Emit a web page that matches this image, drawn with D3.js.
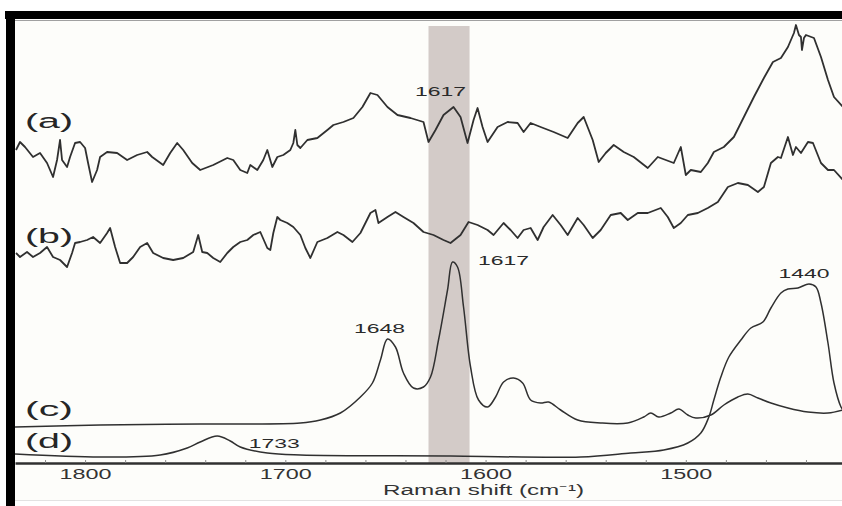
<!DOCTYPE html>
<html><head><meta charset="utf-8">
<script src="https://cdn.jsdelivr.net/npm/d3@7"></script>
<style>html,body{margin:0;padding:0;background:#fff;} svg{display:block;font-family:"Liberation Sans",Arial,Helvetica,sans-serif;}</style>
</head><body><svg id="chart" width="842" height="506"></svg>
<script>
// ---- Data (Raman shift in cm-1, intensity in arbitrary stacked units) ----
const aShift = [1834.5,1832.5,1830,1826,1822.5,1819,1816,1814,1812.5,1811.5,
  1809,1807.5,1805,1802.5,1800,1798.5,1796.5,1794,1792.5,1789,
  1784,1779,1774,1769,1766.5,1761,1757.5,1754,1751,1746.5,
  1742.5,1736,1729,1726,1722.5,1719,1717.5,1714,1711,1709,
  1706.5,1704,1701,1697.5,1696,1695,1694,1692.5,1689,1684,
  1679,1676,1671,1666,1661.5,1657.5,1654,1649,1644,1637.5,
  1631,1628.5,1625,1621,1616,1612.5,1609,1606,1604,1601.5,
  1599,1594,1589,1584,1581,1577.5,1572.5,1566,1559,1554,
  1551,1546.5,1543.5,1540,1536,1531,1526,1519,1514,1510,
  1506,1502.5,1500,1497.5,1492.5,1489,1486,1481,1476,1471,
  1466,1461,1456.5,1452.5,1449,1446,1445,1443.5,1442.5,1442,
  1441,1440,1436,1432.5,1429,1426,1421.5];
const aIntensity = [313,321,316,306,310,300,286,303,323,303,
  296,306,320,321,315,300,281,293,306,311,
  310,303,308,311,306,298,310,320,313,300,
  293,298,305,303,293,290,298,293,303,313,
  296,306,308,313,320,333,318,315,323,325,
  333,338,341,345,356,370,368,356,348,345,
  341,321,333,348,356,346,320,343,355,336,
  321,336,341,340,331,340,336,331,325,340,
  346,323,301,310,318,311,306,295,306,303,
  300,316,288,293,291,300,311,316,326,346,
  366,385,401,405,416,430,438,428,426,413,
  425,428,425,406,383,366,356];

const bShift = [1834.5,1832.5,1829,1826,1822.5,1819,1816,1812.5,1809,1806.5,
  1805,1802.5,1799,1796,1792.5,1789,1787.5,1785,1782.5,1779,
  1776,1772.5,1769,1766,1761,1756,1751,1746,1743.5,1741.5,
  1739,1736,1732.5,1729,1726,1722.5,1719,1716,1712.5,1709,
  1707.5,1706,1704,1702.5,1699,1696,1692.5,1690,1687.5,1684,
  1679,1674,1671,1666.5,1662.5,1657.5,1655,1653.5,1649,1645,
  1641,1636,1631,1626,1621,1617.5,1612.5,1608.5,1604,1599,
  1596,1591,1587.5,1584,1581,1577.5,1574,1571,1566.5,1562.5,
  1559,1554,1551,1546.5,1542.5,1537.5,1532.5,1529,1524,1519,
  1512.5,1509,1506,1502.5,1499,1494,1489,1484,1479,1474,
  1469,1464,1461,1457.5,1454,1452.5,1449,1446.5,1445,1442.5,
  1439,1436.5,1432.5,1429,1426,1421.5];
const bIntensity = [210,206,211,206,210,216,206,203,196,210,
  220,221,223,226,220,230,235,216,200,200,
  206,216,220,210,205,203,205,211,228,211,
  210,205,201,210,216,221,223,228,231,215,
  213,230,246,243,240,236,228,215,205,221,
  225,231,228,221,230,250,253,240,246,251,
  246,240,231,228,223,220,228,241,238,233,
  228,240,233,225,233,235,223,236,248,238,
  228,245,238,225,233,248,250,243,250,250,
  255,246,235,240,248,250,255,261,276,280,
  278,271,276,300,306,305,326,308,316,310,
  321,320,300,293,293,283];

const cShift = [1835,1792.5,1742.5,1692.5,1682.5,1672.5,1662.5,1656.5,1652.5,1649,
  1645,1641,1636,1631,1627.5,1623.5,1619,1616.5,1614,1611,
  1607.5,1603.5,1599,1595,1591,1586,1581.5,1577.5,1572.5,1568.5,
  1562.5,1554,1542.5,1529,1521,1517.5,1513.5,1507.5,1503.5,1499,
  1495,1487.5,1481,1474,1469,1464,1457.5,1449,1439,1429,1421.5];
const cIntensity = [36,38,39,40,43,50,66,80,103,124,
  116,90,75,76,86,123,173,201,196,156,
  96,63,56,66,81,85,80,63,60,61,
  53,43,40,40,46,50,46,50,54,48,
  45,48,58,66,69,65,60,55,51,50,53];

const dShift = [1835,1792.5,1762.5,1749,1742.5,1734,1727.5,1722.5,1709,1692.5,
  1617.5,1552.5,1527.5,1511,1499,1492.5,1488.5,1486,1482.5,1478.5,
  1472.5,1467.5,1461.5,1457.5,1452.5,1449,1444,1438.5,1435,1432.5,
  1429,1426,1422.5,1421.5];
const dIntensity = [9,6,8,15,21,27,22,16,10,8,
  7,6,10,13,20,30,46,63,86,106,
  123,135,141,155,170,174,175,179,176,160,
  120,80,56,53];

const seriesNames = ["(a)","(b)","(c)","(d)"];
const seriesLabelShift = [1830,1830,1830,1830];
const seriesLabelValue = [335,220,47,15];

const peakLabels = ["1617","1617","1648","1440","1733"];
const peakLabelShift = [1622.5,1591,1653,1441,1705.5];
const peakLabelValue = [367.5,198,130,185.5,15];

const bandRange = [1628.5,1608];
const tickValues = [1800,1700,1600,1500];
const minorTickValues = [1820,1800,1780,1760,1740,1720,1700,1680,1660,1640,1620,1600,1580,1560,1540,1520,1500,1480,1460,1440];
const axisTitle = "Raman shift (cm\u207B\u00B9)";

// ---- Drawing ----
const svg = d3.select('#chart');
const x = d3.scaleLinear().domain([1835,1422]).range([15,842]);
const y = d3.scaleLinear().domain([0,443]).range([463,20]);

svg.append('rect').attr('x',0).attr('y',0).attr('width',842).attr('height',506).attr('fill','#ffffff');
svg.append('rect').attr('x',15).attr('y',20).attr('width',827).attr('height',480).attr('fill','#fdfdfa');

// shaded band
svg.append('rect')
  .attr('x', x(bandRange[0])).attr('width', x(bandRange[1]) - x(bandRange[0]))
  .attr('y', y(437)).attr('height', y(0) - y(437))
  .attr('fill', '#d3cbc8');

svg.append('clipPath').attr('id','clip').append('rect')
  .attr('x',15).attr('y',20).attr('width',827).attr('height',443);

const series = [
  {s:aShift, v:aIntensity, curve:d3.curveLinear, w:1.8},
  {s:bShift, v:bIntensity, curve:d3.curveLinear, w:1.8},
  {s:cShift, v:cIntensity, curve:d3.curveCatmullRom.alpha(0.5), w:1.5},
  {s:dShift, v:dIntensity, curve:d3.curveCatmullRom.alpha(0.5), w:1.5}
];
const gLines = svg.append('g').attr('clip-path','url(#clip)');
series.forEach(sr => {
  const pts = sr.s.map((d,i) => [d, sr.v[i]]);
  gLines.append('path')
    .attr('d', d3.line().x(d => x(d[0])).y(d => y(d[1])).curve(sr.curve)(pts))
    .attr('fill','none').attr('stroke','#303030').attr('stroke-width', sr.w)
    .attr('stroke-linejoin','round');
});

// axis
const gAxis = svg.append('g').attr('transform','translate(0,463)');
gAxis.call(d3.axisBottom(x).tickValues(minorTickValues).tickSize(-3).tickSizeOuter(0).tickFormat(''));
gAxis.selectAll('.tick line').attr('stroke','#8a8a8a').attr('stroke-width',1);
gAxis.select('.domain').attr('stroke','#303030').attr('stroke-width',2.6);
const gMajor = svg.append('g').attr('transform','translate(0,463)');
gMajor.call(d3.axisBottom(x).tickValues(tickValues).tickSize(0).tickSizeOuter(0).tickFormat(d3.format('d')));
gMajor.select('.domain').remove();
gMajor.selectAll('text')
  .attr('y',15.5).attr('dy',null)
  .attr('font-size',15).attr('fill','#333')
  .attr('font-family','"Liberation Sans",Arial,sans-serif')
  .attr('textLength',52).attr('lengthAdjust','spacingAndGlyphs');

svg.append('text').text(axisTitle)
  .attr('x', x(1601)).attr('y', 495).attr('text-anchor','middle')
  .attr('font-size',14).attr('fill','#333')
  .attr('textLength',201).attr('lengthAdjust','spacingAndGlyphs');

// series labels
seriesNames.forEach((n,i) => {
  svg.append('text').text(n)
    .attr('x', x(seriesLabelShift[i])).attr('y', y(seriesLabelValue[i]))
    .attr('font-size',20).attr('fill','#262626')
    .attr('textLength',48).attr('lengthAdjust','spacingAndGlyphs');
});

// peak labels
peakLabels.forEach((n,i) => {
  svg.append('text').text(n)
    .attr('x', x(peakLabelShift[i])).attr('y', y(peakLabelValue[i]))
    .attr('text-anchor','middle')
    .attr('font-size',13).attr('fill','#2a2a2a')
    .attr('textLength',51).attr('lengthAdjust','spacingAndGlyphs');
});

// frame
svg.append('rect').attr('x',5).attr('y',11).attr('width',837).attr('height',8).attr('fill','#000');
svg.append('rect').attr('x',6).attr('y',11).attr('width',9).attr('height',495).attr('fill','#000');
svg.append('line').attr('x1',15).attr('x2',842).attr('y1',20.5).attr('y2',20.5).attr('stroke','#a0a0a0').attr('stroke-width',1);
svg.append('line').attr('x1',15).attr('x2',842).attr('y1',500.5).attr('y2',500.5).attr('stroke','#e2e2e2').attr('stroke-width',1);
</script>
</body></html>
